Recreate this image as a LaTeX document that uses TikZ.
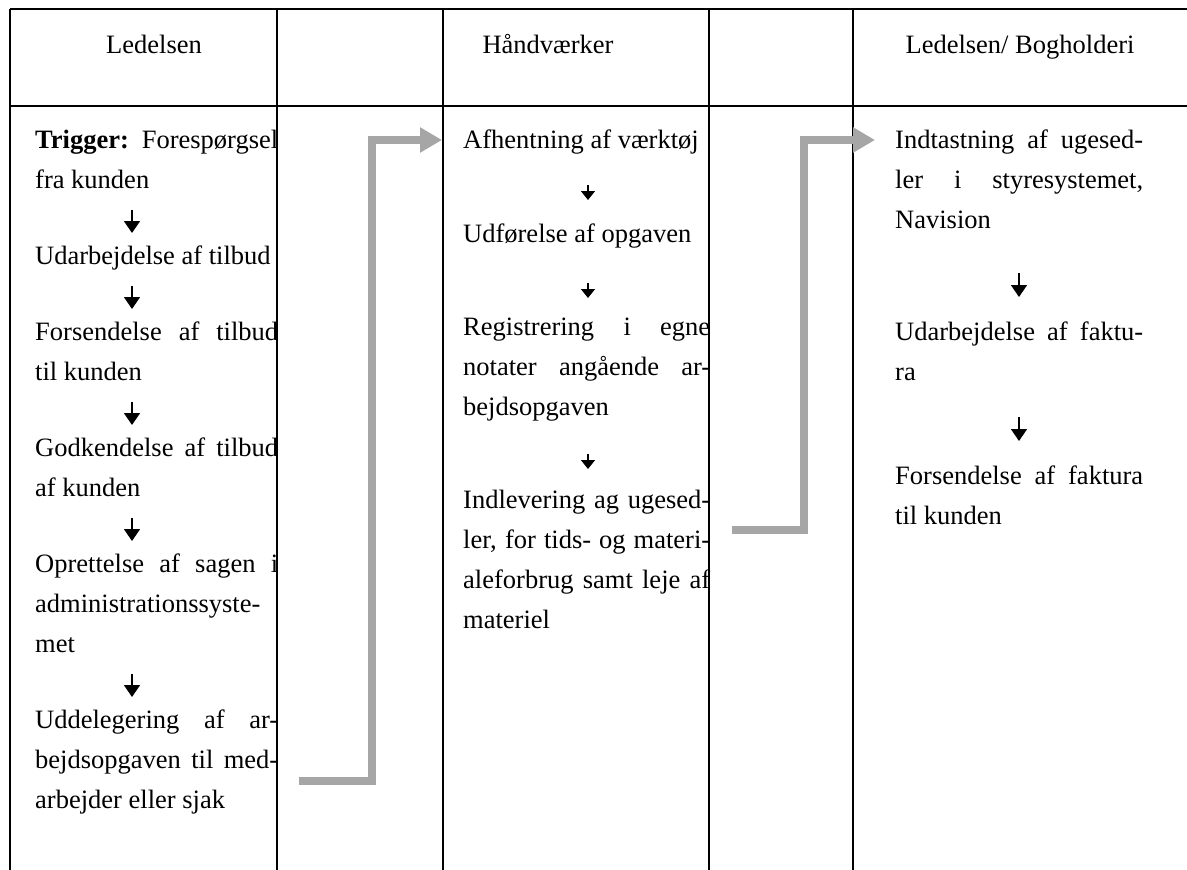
\documentclass[tikz,border=0pt]{standalone}
\usepackage{fontspec}
\setmainfont{Liberation Serif}
\usetikzlibrary{arrows.meta}
\definecolor{handgray}{HTML}{A6A6A6}
% one justified line of a given width, and one plain (last) line
\newcommand\jline[2]{\hbox to #1{#2}}
\newcommand\pline[1]{\hbox{#1}}
\hbadness=10000
\hfuzz=20pt

\begin{document}
\begin{tikzpicture}[x=1pt,y=-1pt,
  rule/.style={line width=1.8pt, black},
  body/.style={anchor=base west, inner sep=0pt, font=\fontsize{26.5}{40}\selectfont},
  head/.style={anchor=base, inner sep=0pt, font=\fontsize{26.5}{40}\selectfont},
  bigtip/.style={line width=1.6pt, -{Triangle[length=12pt,width=16pt]}},
  smalltip/.style={line width=1.5pt, -{Triangle[length=9pt,width=14pt]}},
  handoff/.style={line width=7.5pt, draw=handgray, line join=miter,
                  -{Triangle[length=22pt,width=24pt]}}]

\useasboundingbox (0,0) rectangle (1187,870);

% table rules
\draw[rule] (10,9) -- (1187,9);
\draw[rule] (10,106) -- (1187,106);
\foreach \xx in {10,277,443,709,853}
  \draw[rule] (\xx,9) -- (\xx,870);

% column heads
\node[head] (h1) at (154,53) {Ledelsen};
\node[head] (h2) at (548,53) {Håndværker};
\node[head] (h3) at (1020,53) {Ledelsen/ Bogholderi};

% --- column 1: Ledelsen
\node[body] (a1) at (35,148) {\vtop{%
  \jline{243pt}{\textbf{Trigger:} Forespørgsel}\pline{fra kunden}}};
\node[body] (a2) at (35,264) {\vtop{\pline{Udarbejdelse af tilbud}}};
\node[body] (a3) at (35,340) {\vtop{%
  \jline{243pt}{Forsendelse af tilbud}\pline{til kunden}}};
\node[body] (a4) at (35,456) {\vtop{%
  \jline{243pt}{Godkendelse af tilbud}\pline{af kunden}}};
\node[body] (a5) at (35,572) {\vtop{%
  \jline{243pt}{Oprettelse af sagen i}\pline{administrationssyste-}\pline{met}}};
\node[body] (a6) at (35,728) {\vtop{%
  \jline{243pt}{Uddelegering af ar-}\jline{243pt}{bejdsopgaven til med-}%
  \pline{arbejder eller sjak}}};

% --- column 2: Håndværker
\node[body] (b1) at (463,148) {\vtop{\pline{Afhentning af værktøj}}};
\node[body] (b2) at (463,242) {\vtop{\pline{Udførelse af opgaven}}};
\node[body] (b3) at (463,335) {\vtop{%
  \jline{247pt}{Registrering i egne}\jline{247pt}{notater angående ar-}%
  \pline{bejdsopgaven}}};
\node[body] (b4) at (463,508) {\vtop{%
  \jline{247pt}{Indlevering ag ugesed-}\jline{247pt}{ler, for tids- og materi-}%
  \jline{247pt}{aleforbrug samt leje af}\pline{materiel}}};

% --- column 3: Ledelsen/ Bogholderi
\node[body] (c1) at (895,148) {\vtop{%
  \jline{248pt}{Indtastning af ugesed-}\jline{248pt}{ler i styresystemet,}%
  \pline{Navision}}};
\node[body] (c2) at (895,340) {\vtop{%
  \jline{248pt}{Udarbejdelse af faktu-}\pline{ra}}};
\node[body] (c3) at (895,484) {\vtop{%
  \jline{248pt}{Forsendelse af faktura}\pline{til kunden}}};

% step arrows, column 1
\coordinate (a1o) at (132,210); \coordinate (a2i) at (132,233);
\coordinate (a2o) at (132,286); \coordinate (a3i) at (132,309);
\coordinate (a3o) at (132,402); \coordinate (a4i) at (132,425);
\coordinate (a4o) at (132,518); \coordinate (a5i) at (132,541);
\coordinate (a5o) at (132,674); \coordinate (a6i) at (132,697);
\draw[bigtip] (a1o) -- (a2i);
\draw[bigtip] (a2o) -- (a3i);
\draw[bigtip] (a3o) -- (a4i);
\draw[bigtip] (a4o) -- (a5i);
\draw[bigtip] (a5o) -- (a6i);

% step arrows, column 2
\coordinate (b1o) at (588,185); \coordinate (b2i) at (588,200);
\coordinate (b2o) at (588,283); \coordinate (b3i) at (588,298);
\coordinate (b3o) at (588,454); \coordinate (b4i) at (588,469);
\draw[smalltip] (b1o) -- (b2i);
\draw[smalltip] (b2o) -- (b3i);
\draw[smalltip] (b3o) -- (b4i);

% step arrows, column 3
\coordinate (c1o) at (1019,273); \coordinate (c2i) at (1019,297);
\coordinate (c2o) at (1019,417); \coordinate (c3i) at (1019,441);
\draw[bigtip] (c1o) -- (c2i);
\draw[bigtip] (c2o) -- (c3i);

% hand-offs between lanes
\coordinate (aout) at (299,781);
\coordinate (bin) at (442,140);
\coordinate (bout) at (732,530);
\coordinate (cin) at (875,140);
\draw[handoff] (aout) -- (372,781) -- (372,140) -- (bin);
\draw[handoff] (bout) -- (804,530) -- (804,140) -- (cin);

\end{tikzpicture}
\end{document}
